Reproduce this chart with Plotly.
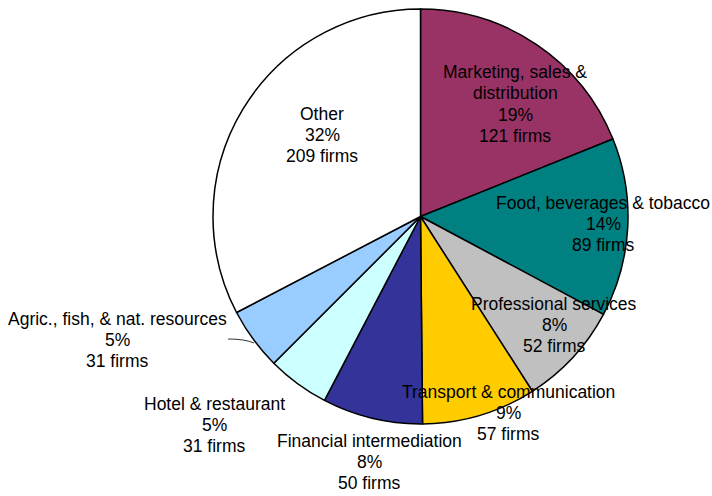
import plotly.graph_objects as go

W, H = 712, 496

sectors = ['Marketing, sales &|distribution', 'Food, beverages & tobacco',
           'Professional services', 'Transport & communication',
           'Financial intermediation', 'Hotel & restaurant',
           'Agric., fish, & nat. resources', 'Other']
firms = [121, 89, 52, 57, 50, 31, 31, 209]
pct_labels = ['19%', '14%', '8%', '9%', '8%', '5%', '5%', '32%']
colors = ['#993366', '#008080', '#C0C0C0', '#FFCC00',
          '#333399', '#CCFFFF', '#99CCFF', '#FFFFFF']

# label block centres in pixels (x, y from top)
label_px = [(515, 104), (603, 224), (554, 325), (508, 413),
            (369, 462), (214, 425), (117, 340), (322, 135)]
line_gap = 21.3

# pie centre / radius in pixels
cx, cy, r = 420.5, 216.5, 207.5

fig = go.Figure(go.Pie(
    values=firms,
    labels=[s.replace('|', ' ') for s in sectors],
    sort=False,
    direction='clockwise',
    rotation=0,
    marker=dict(colors=colors, line=dict(color='black', width=1.5)),
    textinfo='none',
    hoverinfo='label+value+percent',
    domain=dict(x=[(cx - r) / W, (cx + r) / W],
                y=[1 - (cy + r) / H, 1 - (cy - r) / H]),
))

for name, n, p, (lx, ly) in zip(sectors, firms, pct_labels, label_px):
    lines = name.split('|') + [p, f'{n} firms']
    top = ly - line_gap * (len(lines) - 1) / 2
    for i, t in enumerate(lines):
        fig.add_annotation(
            x=lx / W, y=1 - (top + i * line_gap) / H, xref='paper', yref='paper',
            text=t, showarrow=False, xanchor='center', yanchor='middle',
            font=dict(family='Liberation Sans, Arial, sans-serif', size=17.5, color='black'),
        )

# leader line for the agriculture label
fig.add_shape(type='path', xref='paper', yref='paper',
              path=f'M {228 / W},{1 - 339 / H} Q {245 / W},{1 - 339 / H} {254 / W},{1 - 343 / H}',
              line=dict(color='black', width=0.8))

fig.update_layout(
    width=W, height=H,
    margin=dict(l=0, r=0, t=0, b=0),
    paper_bgcolor='white', plot_bgcolor='white',
    showlegend=False,
)

fig.write_html('out.html', config={'displayModeBar': False},
               post_script="document.body.style.margin='0px';")
